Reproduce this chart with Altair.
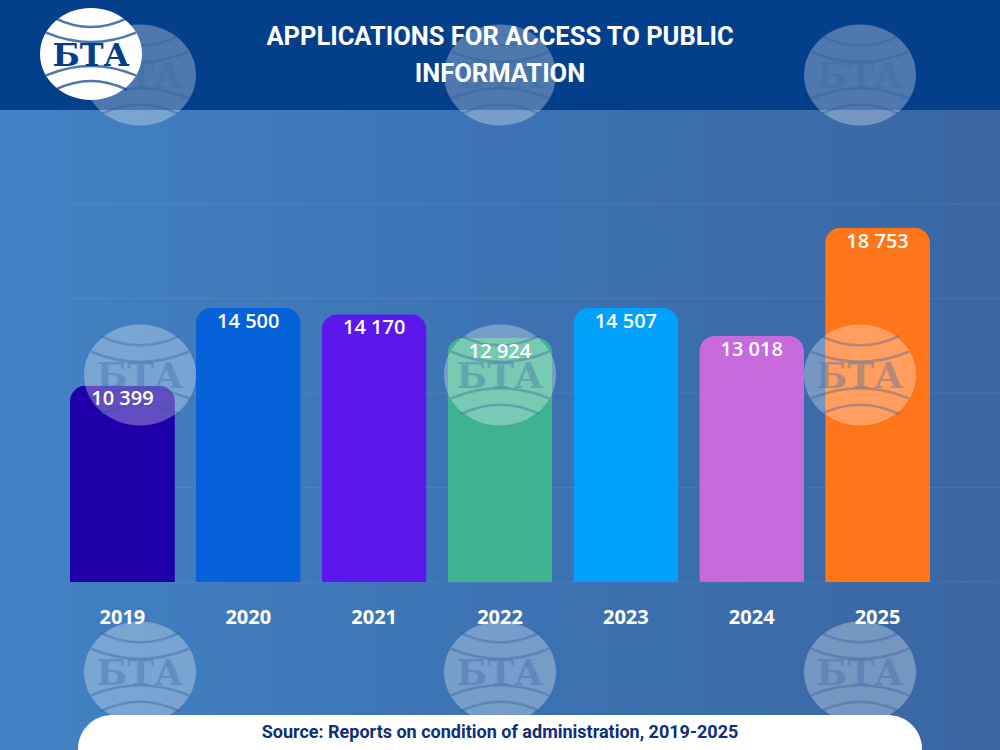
import altair as alt
import pandas as pd

# ---------------- data ----------------
years = ["2019", "2020", "2021", "2022", "2023", "2024", "2025"]
applications = [10399, 14500, 14170, 12924, 14507, 13018, 18753]
grid_values = [0, 5000, 10000, 15000, 20000]

title_lines = ["APPLICATIONS FOR ACCESS TO PUBLIC", "INFORMATION"]
source_text = "Source: Reports on condition of administration, 2019-2025"
logo_text = "БТА"

# ---------------- styles ----------------
bar_colors = ["#1f00a8", "#0562d8", "#5c17ec", "#3fb391", "#00a1fa", "#c76ade", "#ff7519"]
header_color = "#043f8b"
source_color = "#0b2f7c"
narrow_font = "Roboto, sans-serif"
label_font = "Open Sans, Noto Sans, sans-serif"

W, H = 860, 378          # plot area
L, T = 70, 204           # plot area origin on the 1000x750 canvas


def cx(x):
    return x - L


def cy(y):
    return y - T


df = pd.DataFrame({"year": years, "value": applications})
df["label"] = [f"{v:,}".replace(",", " ") for v in applications]
grid_df = pd.DataFrame({"g": grid_values})

one = pd.DataFrame({"k": [0]})

x_scale = alt.Scale(type="band", domain=years, paddingInner=21 / 126, paddingOuter=0)
y_scale = alt.Scale(domain=[0, 20000], nice=False, zero=True)

# ---------------- background ----------------
bg = alt.Chart(one).mark_rect(
    fill=alt.Gradient(
        gradient="linear",
        stops=[
            alt.GradientStop(color="#4282c4", offset=0),
            alt.GradientStop(color="#3d73b3", offset=0.5),
            alt.GradientStop(color="#3a66a3", offset=1),
        ],
        x1=0, x2=1, y1=0, y2=0,
    )
).encode(x=alt.value(cx(0)), x2=alt.value(cx(1000)), y=alt.value(cy(0)), y2=alt.value(cy(750)))

header = alt.Chart(one).mark_rect(fill=header_color).encode(
    x=alt.value(cx(0)), x2=alt.value(cx(1000)), y=alt.value(cy(0)), y2=alt.value(cy(110))
)

grid = alt.Chart(grid_df).mark_rule(color="white", opacity=0.07, strokeWidth=1).encode(
    y=alt.Y("g:Q", scale=y_scale, axis=None),
    x=alt.value(0),
    x2=alt.value(cx(1000)),
)

# ---------------- bars ----------------
bars = alt.Chart(df).mark_bar(cornerRadiusTopLeft=16, cornerRadiusTopRight=16).encode(
    x=alt.X(
        "year:N", sort=years, scale=x_scale,
        axis=alt.Axis(
            title=None, domain=False, ticks=False, grid=False, labelAngle=0, labelPadding=25,
            labelFontSize=20, labelFont=label_font, labelFontWeight="bold", labelColor="white",
            zindex=1,
        ),
    ),
    y=alt.Y("value:Q", scale=y_scale, axis=None),
    color=alt.Color("year:N", scale=alt.Scale(domain=years, range=bar_colors), legend=None),
)

labels = alt.Chart(df).mark_text(
    baseline="alphabetic", dy=20, fontSize=20, font=label_font, fontWeight=600, color="white"
).encode(
    x=alt.X("year:N", sort=years, scale=x_scale, axis=None),
    y=alt.Y("value:Q", scale=y_scale, axis=None),
    text="label:N",
)

# ---------------- watermarks ----------------
ellipse = ("M -1 0 C -1 -0.5 -0.55 -0.9 0 -0.9 C 0.55 -0.9 1 -0.5 1 0 "
           "C 1 0.5 0.55 0.9 0 0.9 C -0.55 0.9 -1 0.5 -1 0 Z")
arcs = ("M -0.88 -0.42 Q 0 -0.05 0.88 -0.42 M -0.7 -0.7 Q 0 -0.36 0.7 -0.7 "
        "M -0.88 0.42 Q 0 0.05 0.88 0.42 M -0.7 0.7 Q 0 0.36 0.7 0.7")

wm_cols = [140, 500, 860]
wm_rows = [75, 375, 672]
wm = pd.DataFrame(
    [{"px": cx(x), "py": cy(y)} for y in wm_rows for x in wm_cols]
)
wm_x = alt.X("px:Q", scale=None, axis=None)
wm_y = alt.Y("py:Q", scale=None, axis=None)

wm_shape = alt.Chart(wm).mark_point(
    shape=ellipse, size=112 * 112, filled=True, fill="white", opacity=0.3, strokeWidth=0
).encode(x=wm_x, y=wm_y)
wm_arcs = alt.Chart(wm).mark_point(
    shape=arcs, size=112 * 112, filled=False, stroke="#2c5c9c", strokeWidth=2.5, opacity=0.35
).encode(x=wm_x, y=wm_y)
wm_text = alt.Chart(wm).mark_text(
    text=logo_text, font="DejaVu Serif", fontWeight="bold", fontSize=36,
    baseline="middle", color="#3567a6", opacity=0.35, dy=2
).encode(x=wm_x, y=wm_y)

# ---------------- bottom source box ----------------
box = alt.Chart(one).mark_rect(fill="white", cornerRadius=34).encode(
    x=alt.value(cx(78)), x2=alt.value(cx(922)), y=alt.value(cy(715)), y2=alt.value(cy(800))
)
source = alt.Chart(one).mark_text(
    text=source_text, font=narrow_font, fontWeight="bold", fontSize=18,
    color=source_color, baseline="middle", align="center"
).encode(x=alt.value(cx(500)), y=alt.value(cy(733)))

# ---------------- logo ----------------
logo = alt.Chart(one).mark_point(
    shape=ellipse, size=102 * 102, filled=True, fill="white", opacity=1, strokeWidth=0
).encode(x=alt.value(cx(91)), y=alt.value(cy(54)))
logo_arcs = alt.Chart(one).mark_point(
    shape=arcs, size=102 * 102, filled=False, stroke=header_color, strokeWidth=2.5
).encode(x=alt.value(cx(91)), y=alt.value(cy(54)))
logo_txt = alt.Chart(one).mark_text(
    text=logo_text, font="DejaVu Serif", fontWeight="bold", fontSize=32,
    baseline="middle", color=header_color, dy=2
).encode(x=alt.value(cx(91)), y=alt.value(cy(54)))

# ---------------- title ----------------
title1 = alt.Chart(one).mark_text(
    text=title_lines[0], font=narrow_font, fontWeight="bold", fontSize=25.5,
    color="white", baseline="middle", align="center"
).encode(x=alt.value(cx(500)), y=alt.value(cy(37)))
title2 = alt.Chart(one).mark_text(
    text=title_lines[1], font=narrow_font, fontWeight="bold", fontSize=25.5,
    color="white", baseline="middle", align="center"
).encode(x=alt.value(cx(500)), y=alt.value(cy(74)))

chart = (
    alt.layer(
        bg, header, grid, bars, wm_shape, wm_arcs, wm_text, box, source,
        logo, logo_arcs, logo_txt, labels, title1, title2,
    )
    .resolve_scale(x="independent", y="independent")
    .properties(
        width=W, height=H,
        padding={"left": L, "top": T, "right": 1000 - L - W, "bottom": 750 - T - H},
        autosize=alt.AutoSizeParams(type="none"),
        background="#3d73b3",
    )
    .configure_view(stroke=None)
)

chart.save("out.html", embed_options={"renderer": "svg", "actions": False})
